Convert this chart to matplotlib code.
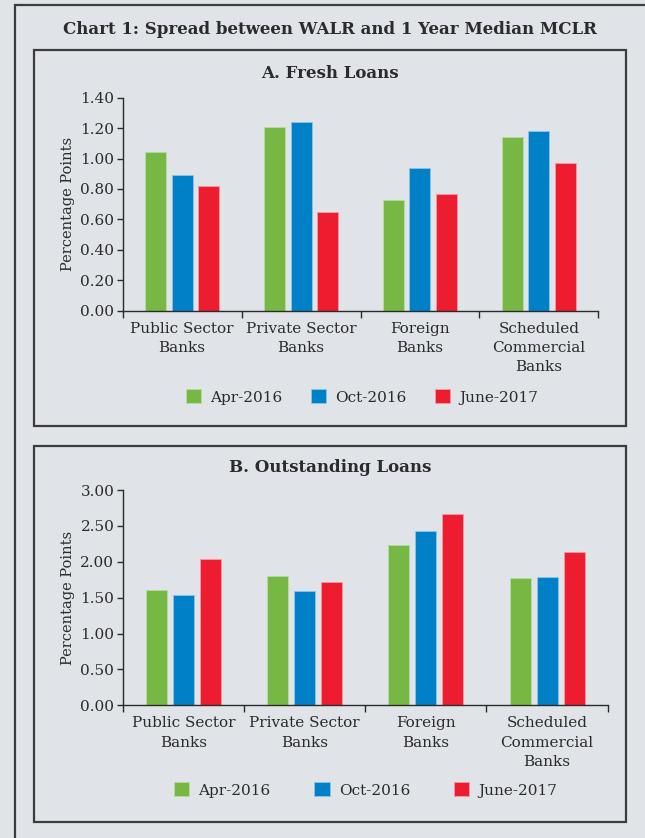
import matplotlib
matplotlib.use("Agg")
import matplotlib.pyplot as plt
from matplotlib.patches import Rectangle, Patch
import numpy as np

plt.rcParams['font.family'] = ['DejaVu Serif']

categories = ["Public Sector\nBanks", "Private Sector\nBanks", "Foreign\nBanks",
              "Scheduled\nCommercial\nBanks"]
series = ["Apr-2016", "Oct-2016", "June-2017"]

fresh_apr16 = [1.04, 1.21, 0.73, 1.14]
fresh_oct16 = [0.89, 1.24, 0.94, 1.18]
fresh_jun17 = [0.82, 0.65, 0.77, 0.97]

outst_apr16 = [1.60, 1.80, 2.24, 1.78]
outst_oct16 = [1.53, 1.59, 2.43, 1.79]
outst_jun17 = [2.04, 1.72, 2.67, 2.14]

fresh_ticks = [0.0, 0.2, 0.4, 0.6, 0.8, 1.0, 1.2, 1.4]
outst_ticks = [0.0, 0.5, 1.0, 1.5, 2.0, 2.5, 3.0]

colors = ["#76b843", "#0080c6", "#ed1c2e"]
edge_colors = ["#b6dca0", "#8cc6e8", "#f59aa2"]
bg = "#e0e4e8"
ink = "#2b2b2b"

W, H = 645, 838
fig = plt.figure(figsize=(W / 100, H / 100), dpi=100, facecolor=bg)


def px_rect(x0, y0, x1, y1):
    """Axes rectangle from pixel box (top-left origin)."""
    return [x0 / W, 1 - y1 / H, (x1 - x0) / W, (y1 - y0) / H]


def frame(x0, y0, x1, y1, lw=1.6, color="#3c3c3c"):
    fig.add_artist(Rectangle((x0 / W, 1 - y1 / H), (x1 - x0) / W, (y1 - y0) / H,
                             transform=fig.transFigure, fill=False,
                             edgecolor=color, linewidth=lw, zorder=0))


# outer frame and two panel frames
frame(15, 5, 700, 900)
frame(34, 50, 626, 426.5)
frame(34, 446, 626, 821.5)

fig.text(330 / W, 1 - 30 / H, "Chart 1: Spread between WALR and 1 Year Median MCLR",
         ha="center", va="center", fontsize=12, fontweight="bold", color=ink)


def panel(rect, title, title_y, data, ticks, width, pitch, legend_x, legend_y, colspace):
    ax = fig.add_axes(rect)
    ax.set_facecolor(bg)
    x = np.arange(len(categories)) + 0.5
    for i, (vals, c, ec) in enumerate(zip(data, colors, edge_colors)):
        ax.bar(x + (i - 1) * pitch, vals, width=width, color=c,
               edgecolor=ec, linewidth=0.6, label=series[i], zorder=2)
    ax.set_xlim(0, len(categories))
    ax.set_ylim(ticks[0], ticks[-1])
    ax.set_yticks(ticks)
    ax.set_yticklabels([f"{t:.2f}" for t in ticks])
    ax.set_xticks(np.arange(len(categories) + 1))
    ax.set_xticklabels([])
    ax.set_xticks(x, minor=True)
    ax.set_xticklabels(categories, minor=True, linespacing=1.48)
    ax.tick_params(axis="x", which="minor", length=0, pad=8, labelsize=11, colors=ink)
    ax.tick_params(axis="x", which="major", length=5, width=1, color=ink)
    ax.tick_params(axis="y", length=4, width=1, color=ink, labelsize=11,
                   labelcolor=ink, pad=2)
    for s in ["top", "right"]:
        ax.spines[s].set_visible(False)
    for s in ["left", "bottom"]:
        ax.spines[s].set_color(ink)
        ax.spines[s].set_linewidth(1.0)
    ax.set_ylabel("Percentage Points", fontsize=10.5, color=ink, labelpad=4)
    fig.text(330 / W, 1 - title_y / H, title, ha="center", va="center",
             fontsize=12, fontweight="bold", color=ink)
    handles = [Patch(facecolor=c, edgecolor=ec, linewidth=0.6) for c, ec in zip(colors, edge_colors)]
    fig.legend(handles, series, loc="center", bbox_to_anchor=(legend_x / W, 1 - legend_y / H),
               ncol=3, frameon=False, fontsize=11, handlelength=1.0,
               handleheight=1.0, handletextpad=0.6, columnspacing=colspace,
               labelcolor=ink)
    return ax


panel(px_rect(122.7, 97.7, 598.3, 310.7), "A. Fresh Loans", 73,
      [fresh_apr16, fresh_oct16, fresh_jun17], fresh_ticks, 0.176, 0.221, 362, 397, 1.85)
panel(px_rect(122.7, 490, 607.7, 705.3), "B. Outstanding Loans", 467,
      [outst_apr16, outst_oct16, outst_jun17], outst_ticks, 0.173, 0.223, 365.5, 790, 2.85)

fig.savefig("out.png", dpi=100, facecolor=bg)
